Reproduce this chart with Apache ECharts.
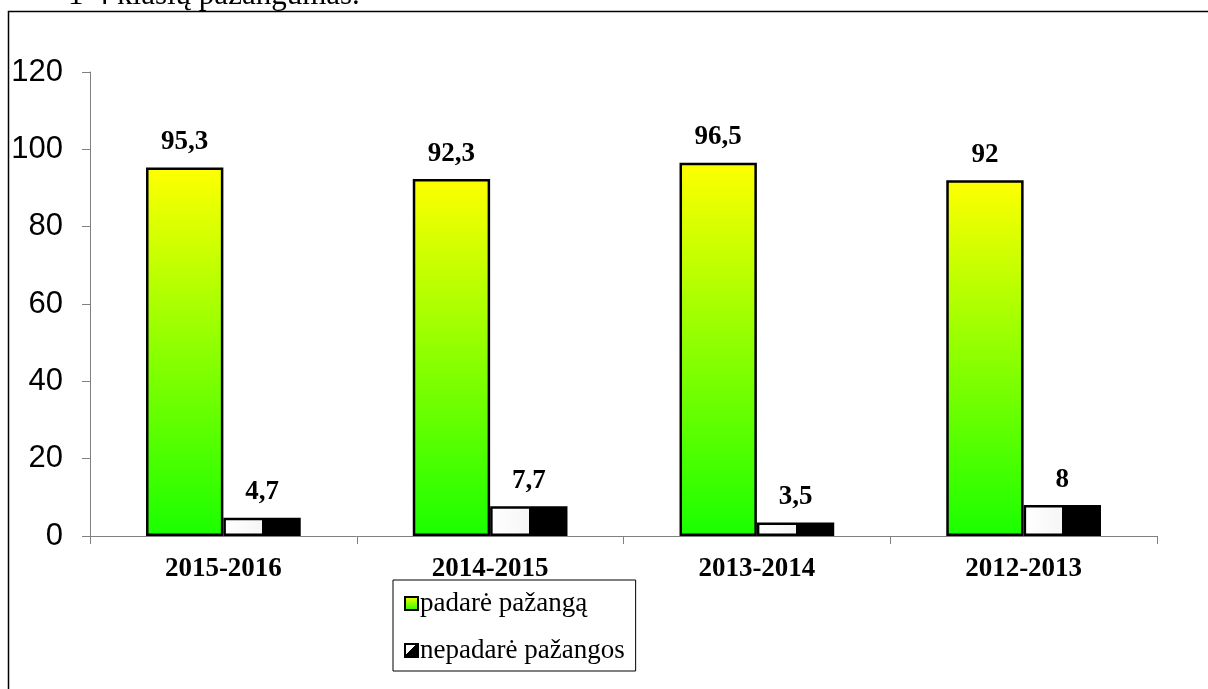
<!DOCTYPE html>
<html>
<head>
<meta charset="utf-8">
<script src="https://cdn.jsdelivr.net/npm/echarts@6/dist/echarts.min.js"></script>
<style>html,body{margin:0;padding:0;background:#fff;}#c{width:1208px;height:689px;}</style>
</head>
<body>
<div id="c"></div>
<script>
var categories = ['2015-2016', '2014-2015', '2013-2014', '2012-2013'];
var padare = [95.3, 92.3, 96.5, 92];
var nepadare = [4.7, 7.7, 3.5, 8];
var seriesNames = ['padarė pažangą', 'nepadarė pažangos'];
var titleText = '1-4 klasių pažangumas.';
var yMin = 0, yMax = 120, yInterval = 20;

var chart = echarts.init(document.getElementById('c'), null, {renderer: 'canvas'});
var serif = '"Liberation Serif", "Times New Roman", serif';
var fmt = function (p) { return String(p.value).replace('.', ','); };
var greenGrad = new echarts.graphic.LinearGradient(0, 0, 0, 1, [
  {offset: 0, color: '#ffff00'}, {offset: 1, color: '#1aff00'}
]);
var bwGrad = new echarts.graphic.LinearGradient(0, 0, 1, 0, [
  {offset: 0, color: '#ffffff'}, {offset: 0.5, color: '#f6f6f6'},
  {offset: 0.5, color: '#000000'}, {offset: 1, color: '#000000'}
]);
var legendBw = new echarts.graphic.LinearGradient(0, 0, 1, 1, [
  {offset: 0, color: '#ffffff'}, {offset: 0.45, color: '#ffffff'},
  {offset: 0.45, color: '#000000'}, {offset: 1, color: '#000000'}
]);
var labelStyle = {show: true, position: 'top', distance: 12, formatter: fmt,
  fontFamily: serif, fontWeight: 'bold', fontSize: 27, color: '#000'};

chart.setOption({
  animation: false,
  backgroundColor: '#fff',
  graphic: [
    {type: 'rect', shape: {x: 8.5, y: 11.5, width: 1260, height: 720},
      style: {fill: 'none', stroke: '#000', lineWidth: 1.5}, silent: true},
    {type: 'text', left: 68, top: -20,
      style: {text: titleText, font: '31px "Liberation Serif", serif', fill: '#000'}}
  ],
  grid: {left: 90, right: 51, top: 72, bottom: 153, containLabel: false},
  legend: {
    orient: 'vertical', left: 393, top: 580,
    data: [
      {name: seriesNames[0], icon: 'rect', itemStyle: {color: greenGrad, borderColor: '#000', borderWidth: 2}},
      {name: seriesNames[1], icon: 'rect', itemStyle: {color: legendBw, borderColor: '#000', borderWidth: 2}}
    ],
    borderColor: '#000', borderWidth: 1, padding: [10, 11, 7, 11],
    itemGap: 20, itemWidth: 13, itemHeight: 13,
    textStyle: {fontFamily: serif, fontSize: 27, color: '#000', padding: [0, 0, 0, -3]}
  },
  xAxis: {
    type: 'category', data: categories,
    axisLine: {lineStyle: {color: '#808080', width: 1}},
    axisTick: {show: true, length: 8, lineStyle: {color: '#808080'}},
    axisLabel: {fontFamily: serif, fontWeight: 'bold', fontSize: 27, color: '#000', margin: 20}
  },
  yAxis: {
    type: 'value', min: yMin, max: yMax, interval: yInterval,
    splitLine: {show: false},
    axisLine: {show: true, lineStyle: {color: '#808080', width: 1}},
    axisTick: {show: true, length: 8, lineStyle: {color: '#808080'}},
    axisLabel: {fontFamily: 'Liberation Sans, Arial, sans-serif', fontSize: 31, color: '#000', margin: 27}
  },
  series: [
    {name: seriesNames[0], type: 'bar', data: padare, barGap: '0%', barCategoryGap: '42%',
      itemStyle: {color: greenGrad, borderColor: '#000', borderWidth: 2.5}, label: labelStyle},
    {name: seriesNames[1], type: 'bar', data: nepadare,
      itemStyle: {color: bwGrad, borderColor: '#000', borderWidth: 2.5}, label: labelStyle}
  ]
});
</script>
</body>
</html>
